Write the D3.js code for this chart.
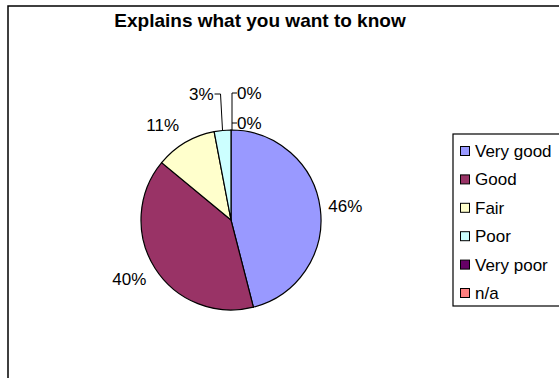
<!DOCTYPE html>
<html>
<head>
<meta charset="utf-8">
<script src="https://cdn.jsdelivr.net/npm/d3@7"></script>
<style>
  html, body { margin: 0; padding: 0; background: #fff; }
  svg { display: block; font-family: "Liberation Sans", Arial, sans-serif; }
</style>
</head>
<body>
<svg id="chart" width="559" height="378"></svg>
<script>
// Survey answers for "Explains what you want to know"
const categories = ["Very good", "Good", "Fair", "Poor", "Very poor", "n/a"];
const values = [46, 40, 11, 3, 0, 0];
const labels = ["46%", "40%", "11%", "3%", "0%", "0%"];
const colors = ["#9999FF", "#993366", "#FFFFCC", "#CCFFFF", "#660066", "#FF8080"];

const svg = d3.select("#chart");

// chart area frame (runs off the right and bottom edges)
svg.append("rect")
  .attr("x", 8).attr("y", 6)
  .attr("width", 620).attr("height", 420)
  .attr("fill", "#fff").attr("stroke", "#000").attr("stroke-width", 1.5);

svg.append("text")
  .attr("x", 260).attr("y", 27)
  .attr("text-anchor", "middle")
  .attr("font-weight", "bold")
  .attr("font-size", 19)
  .text("Explains what you want to know");

const cx = 231, cy = 220, r = 90;
const data = categories.map((c, i) => ({ cat: c, value: values[i], label: labels[i], color: colors[i] }));

const pie = d3.pie().value(d => d.value).sort(null);
const arcs = pie(data);
const arc = d3.arc().innerRadius(0).outerRadius(r);

const g = svg.append("g").attr("transform", `translate(${cx},${cy})`);

g.selectAll("path.slice")
  .data(arcs.filter(a => a.data.value > 0))
  .join("path")
  .attr("class", "slice")
  .attr("d", arc)
  .attr("fill", d => d.data.color)
  .attr("stroke", "#000")
  .attr("stroke-width", 1.2);

// point on the rim at a slice's mid angle
function rimPoint(a, rad) {
  const m = (a.startAngle + a.endAngle) / 2;
  return [rad * Math.sin(m), -rad * Math.cos(m)];
}

const fs = 17;
const labelG = g.append("g").attr("font-size", fs).attr("fill", "#000");

// labels placed just outside the larger slices
[0, 1, 2].forEach(i => {
  const a = arcs[i];
  const m = (a.startAngle + a.endAngle) / 2;
  const [px, py] = rimPoint(a, r + 8);
  const anchor = Math.sin(m) >= 0 ? "start" : "end";
  const centerY = py - Math.cos(m) * 12;
  labelG.append("text")
    .attr("x", anchor === "end" ? px - 2 : px)
    .attr("y", centerY + fs * 0.36)
    .attr("text-anchor", anchor)
    .text(a.data.label);
});

// small slices get leader lines to labels above the pie
const leader = d3.line();
const poor = arcs[3];
const [ppx, ppy] = rimPoint(poor, r);
labelG.append("path")
  .attr("d", leader([[ppx, ppy], [ppx - 2, -126], [ppx - 8, -126]]))
  .attr("fill", "none").attr("stroke", "#000").attr("stroke-width", 1);
labelG.append("text")
  .attr("x", ppx - 9).attr("y", -126 + fs * 0.36)
  .attr("text-anchor", "end")
  .text(poor.data.label);

const vp = arcs[4];
const [vx, vy] = rimPoint(vp, r);
labelG.append("path")
  .attr("d", leader([[vx + 1, vy], [vx + 1, -127], [vx + 6, -127]]))
  .attr("fill", "none").attr("stroke", "#000").attr("stroke-width", 1);
labelG.append("text")
  .attr("x", vx + 6).attr("y", -127 + fs * 0.36)
  .text(vp.data.label);

const na = arcs[5];
const [nx, ny] = rimPoint(na, r);
labelG.append("path")
  .attr("d", leader([[nx + 1, ny - 7], [nx + 6, ny - 7]]))
  .attr("fill", "none").attr("stroke", "#000").attr("stroke-width", 1);
labelG.append("text")
  .attr("x", nx + 6).attr("y", ny - 7 + fs * 0.36)
  .text(na.data.label);

// legend
const lg = svg.append("g").attr("transform", "translate(453,134)");
lg.append("rect")
  .attr("x", 0).attr("y", 0)
  .attr("width", 140).attr("height", 172)
  .attr("fill", "#fff").attr("stroke", "#000").attr("stroke-width", 1.2);

const ly = d3.scalePoint().domain(categories).range([17, 159]);
const items = lg.selectAll("g.item").data(data).join("g")
  .attr("class", "item")
  .attr("transform", d => `translate(0,${ly(d.cat)})`);
items.append("rect")
  .attr("x", 7.5).attr("y", -4.5)
  .attr("width", 9).attr("height", 9)
  .attr("fill", d => d.color)
  .attr("stroke", "#000").attr("stroke-width", 1);
items.append("text")
  .attr("x", 22).attr("y", 6)
  .attr("font-size", 17)
  .text(d => d.cat);
</script>
</body>
</html>
